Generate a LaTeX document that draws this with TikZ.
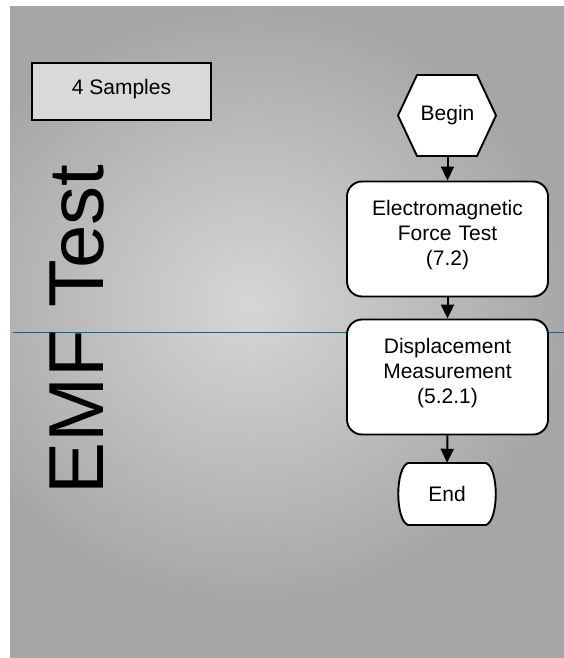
\documentclass[tikz,border=0pt]{standalone}
\usepackage{fontspec}
\setmainfont{Liberation Sans}
\usetikzlibrary{arrows.meta}

\definecolor{bgdark}{HTML}{A6A6A6}
\definecolor{bglight}{HTML}{D6D6D6}
\definecolor{samplegray}{HTML}{D9D9D9}
\definecolor{divider}{HTML}{236078}

\pgfdeclareradialshading{panelglow}{\pgfpoint{0bp}{0bp}}{color(0bp)=(bglight); color(12.5bp)=(bgdark); color(50bp)=(bgdark)}

\tikzset{
  procbox/.style={draw, line width=1.9pt, fill=white, rounded corners=15pt,
    minimum width=201pt, minimum height=115pt, text width=190pt,
    align=center, text depth=62pt},
  flow/.style={line width=2pt, -{Triangle[width=13pt,length=14pt]}},
  outline/.style={line width=1.9pt, fill=white}
}

\begin{document}
\begin{tikzpicture}[x=1pt, y=-1pt, font=\fontsize{21pt}{25pt}\selectfont]
            \useasboundingbox (0,0) rectangle (564,658);
            \begin{scope}
              \clip (10,7) rectangle (564,658);
              \fill [bgdark] (10,7) rectangle (564,658);
              \shade [shading=panelglow] (250,305) ellipse (640 and 600);
            \end{scope}
            \draw [divider, line width=1pt] (13,332) -- (564,332);
            \node [draw, line width=1.9pt, fill=samplegray, minimum width=179pt, minimum height=57pt, text depth=10pt] (samples) at (121.5,91.5) {4 Samples};
            \node [rotate=90, anchor=base, font=\fontsize{78pt}{90pt}\selectfont] (title) at (103,329.5) {EMF Test};
            \draw [outline] (417,75) -- (477,75) -- (496,115.5) -- (477,156) -- (417,156) -- (398,115.5) -- cycle;
            \node [minimum height=81pt, inner sep=0pt] (begin) at (447.5,115.5) {Begin};
            \node [procbox] (emf) at (447.5,239) {Electromagnetic\\Force Test\\(7.2)};
            \node [procbox] (disp) at (447.5,377) {Displacement\\Measurement\\(5.2.1)};
            \draw [outline] (408,463) -- (486,463) .. controls (499,468) and (499,520) .. (486,525) -- (408,525) .. controls (395,520) and (395,468) .. (408,463) -- cycle;
            \node [minimum height=62pt, inner sep=0pt] (stop) at (447,494) {End};
            \draw [flow] (begin.south) -- (emf.north);
            \draw [flow] (emf.south) -- (disp.north);
            \draw [flow] (disp.south) -- (stop.north);
\end{tikzpicture}
\end{document}
